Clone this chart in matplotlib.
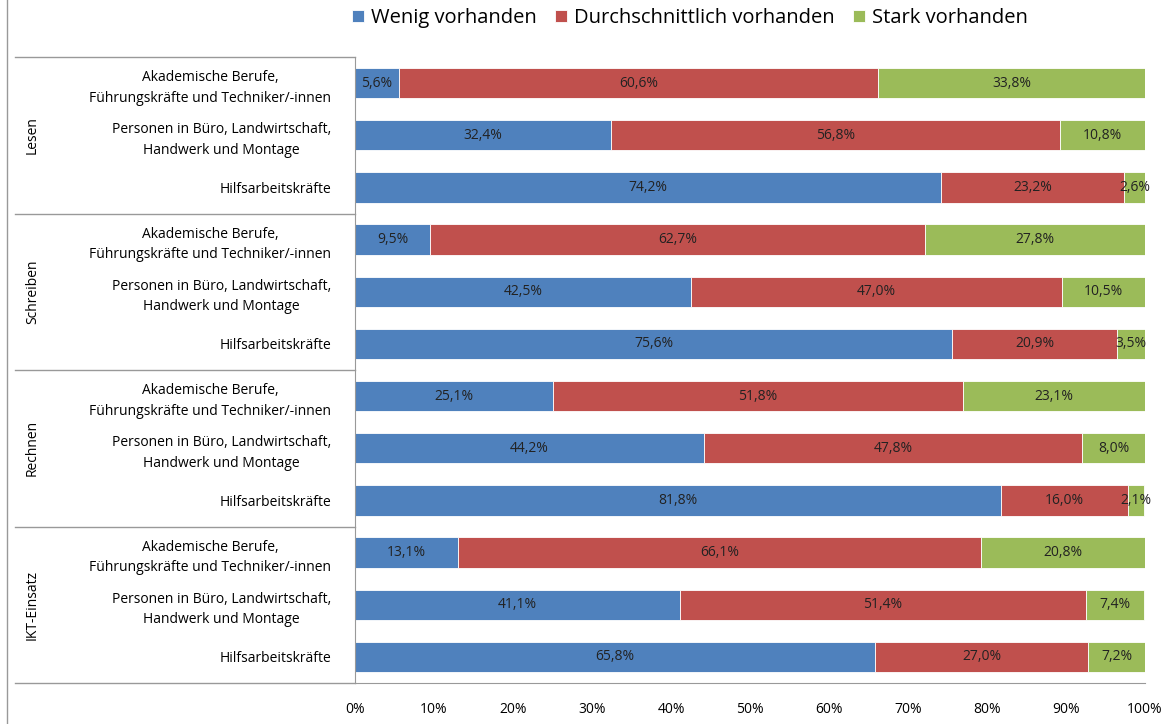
import numpy as np
import matplotlib.pyplot as plt
from matplotlib.lines import Line2D

plt.rcParams['font.family'] = ['Open Sans', 'DejaVu Sans']

# data
groups = ["Lesen", "Schreiben", "Rechnen", "IKT-Einsatz"]
categories = ["Akademische Berufe,\nFührungskräfte und Techniker/-innen",
              "Personen in Büro, Landwirtschaft,\nHandwerk und Montage",
              "Hilfsarbeitskräfte"]
series_names = ["Wenig vorhanden", "Durchschnittlich vorhanden", "Stark vorhanden"]
wenig = [5.6, 32.4, 74.2, 9.5, 42.5, 75.6, 25.1, 44.2, 81.8, 13.1, 41.1, 65.8]
durchschnitt = [60.6, 56.8, 23.2, 62.7, 47.0, 20.9, 51.8, 47.8, 16.0, 66.1, 51.4, 27.0]
stark = [33.8, 10.8, 2.6, 27.8, 10.5, 3.5, 23.1, 8.0, 2.1, 20.8, 7.4, 7.2]
colors = ["#4F81BD", "#C0504D", "#9BBB59"]

W, H = 1172, 724
fig = plt.figure(figsize=(W / 100, H / 100), dpi=100)
x0, x1, y0, y1 = 355, 1145, 57, 683
ax = fig.add_axes([x0 / W, 1 - y1 / H, (x1 - x0) / W, (y1 - y0) / H])

n = len(wenig)
y = np.arange(n)
left = np.zeros(n)
for vals, col, name in zip([wenig, durchschnitt, stark], colors, series_names):
    vals = np.array(vals)
    ax.barh(y, vals, left=left, height=0.58, color=col, label=name,
            edgecolor="white", linewidth=0.6)
    for yi, l, v in zip(y, left, vals):
        ax.text(l + v / 2, yi, "{:.1f}%".format(v).replace(".", ","),
                ha="center", va="center", fontsize=10, color="#222222")
    left += vals

ax.set_xlim(0, 100)
ax.set_ylim(n - 0.5, -0.5)
ax.set_xticks(np.arange(0, 101, 10))
ax.set_xticklabels(["{}%".format(t) for t in range(0, 101, 10)], fontsize=10)
ax.set_yticks(y)
ax.set_yticklabels(categories * len(groups), fontsize=10, linespacing=1.5,
                   multialignment="center")
ax.tick_params(axis="x", length=0, pad=14)
ax.tick_params(axis="y", length=0, pad=17)
for s in ["top", "right"]:
    ax.spines[s].set_visible(False)
for s in ["left", "bottom"]:
    ax.spines[s].set_color("#999999")

# group separators and group labels
xl = (15 - x0) / (x1 - x0)
for i in range(len(groups) + 1):
    yy = i * 3 - 0.5
    ax.plot([xl, 0], [yy, yy], transform=ax.get_yaxis_transform(),
            color="#999999", lw=1, clip_on=False)
for i, g in enumerate(groups):
    ax.text(xl + 0.022, i * 3 + 1, g, transform=ax.get_yaxis_transform(),
            rotation=90, ha="center", va="center", fontsize=10)

# chart area border on the left
fig.add_artist(Line2D([7 / W, 7 / W], [0, 1], color="#999999", lw=1))

handles, labels = ax.get_legend_handles_labels()
fig.legend(handles, labels, loc="center", bbox_to_anchor=(690 / W, 1 - 18 / H),
           ncol=3, frameon=False, fontsize=14.5, handlelength=0.6, handleheight=0.6,
           handletextpad=0.35, columnspacing=0.9)

fig.savefig("out.png", dpi=100)
